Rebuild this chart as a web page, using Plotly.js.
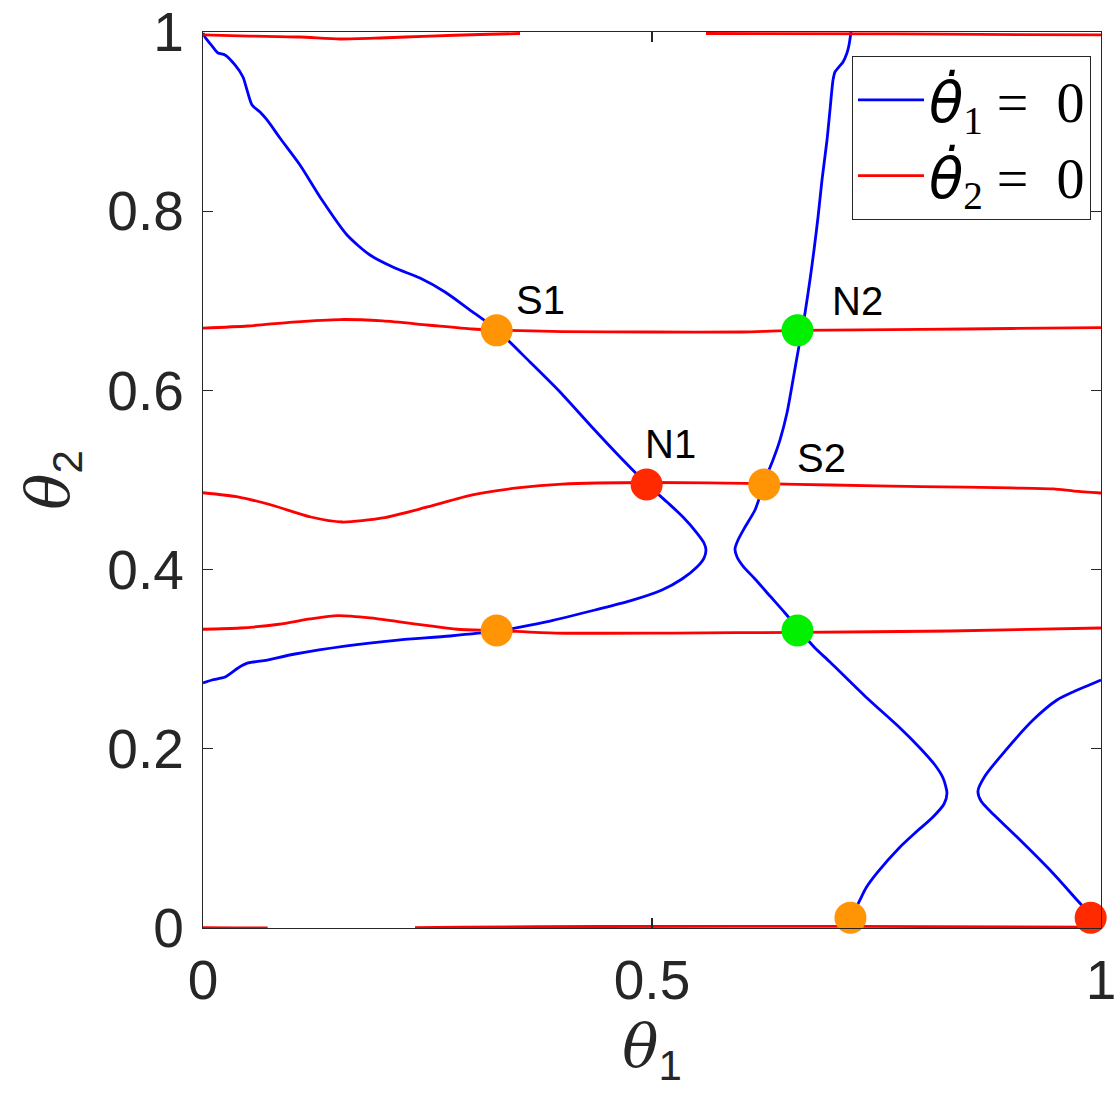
<!DOCTYPE html>
<html>
<head>
<meta charset="utf-8">
<script src="https://cdn.plot.ly/plotly-3.0.1.min.js"></script>
<style>html,body{margin:0;padding:0;background:#fff;}#plot{width:1117px;height:1104px;}</style>
</head>
<body>
<div id="plot"></div>
<script>
// ---- theta1_dot = 0 nullcline (blue), three branches ----
const blueAx = [0,0.0022,0.0100,0.0167,0.0245,0.0356,0.0445,0.0490,0.0546,0.0635,0.0713,0.0857,0.1080,0.1325,0.1604,0.1860,0.2138,0.2416,0.2695,0.2973,0.3274,0.3641,0.3976,0.4310,0.4644,0.4944,0.5167,0.5345,0.5501,0.5579,0.5601,0.5579,0.5501,0.5334,0.5111,0.4755,0.4365,0.3864,0.3530,0.3274,0.2751,0.2171,0.1581,0.1024,0.0657,0.0501,0.0390,0.0245,0.0100,0];
const blueAy = [0.9989,0.9944,0.9844,0.9766,0.9743,0.9632,0.9498,0.9353,0.9185,0.9107,0.9018,0.8817,0.8516,0.8125,0.7734,0.7511,0.7366,0.7254,0.7098,0.6897,0.6674,0.6317,0.5982,0.5614,0.5257,0.4955,0.4754,0.4587,0.4408,0.4297,0.4219,0.4129,0.4029,0.3895,0.3772,0.3650,0.3549,0.3426,0.3359,0.3315,0.3259,0.3214,0.3147,0.3058,0.2980,0.2958,0.2902,0.2801,0.2768,0.2734];

const blueBx = [0.7216,0.7194,0.7171,0.7127,0.7071,0.7038,0.7016,0.6982,0.6949,0.6893,0.6849,0.6804,0.6759,0.6704,0.6670,0.6637,0.6570,0.6503,0.6425,0.6347,0.6281,0.6225,0.6147,0.6036,0.5958,0.5924,0.5947,0.6013,0.6147,0.6314,0.6481,0.6648,0.6815,0.6982,0.7394,0.7762,0.7984,0.8151,0.8241,0.8285,0.8252,0.8129,0.7929,0.7762,0.7506,0.7383,0.7316,0.7261];
const blueBy = [1.0,0.9855,0.9766,0.9665,0.9598,0.9554,0.9464,0.9129,0.8795,0.8348,0.7935,0.7567,0.7232,0.6864,0.6674,0.6496,0.6116,0.5748,0.5446,0.5223,0.5056,0.4888,0.4665,0.4475,0.4330,0.4230,0.4141,0.4040,0.3895,0.3705,0.3516,0.3315,0.3125,0.2969,0.2567,0.2232,0.2009,0.1819,0.1674,0.1507,0.1384,0.1239,0.1060,0.0904,0.0614,0.0446,0.0313,0.0201];

const blueCx = [1.0,0.9844,0.9688,0.9510,0.9243,0.8875,0.8708,0.8630,0.8664,0.8764,0.9065,0.9432,0.9733,0.9855];
const blueCy = [0.2768,0.2701,0.2634,0.2545,0.2321,0.1908,0.1696,0.1529,0.1417,0.1306,0.1016,0.0647,0.0313,0.0179];

// ---- theta2_dot = 0 nullcline (red), several branches ----
const redTopAx = [0,0.0523,0.108,0.1526,0.1971,0.2528,0.3085,0.3530];
const redTopAy = [0.9967,0.9955,0.9944,0.9922,0.9933,0.9955,0.9972,0.9983];
const redTopBx = [0.5601,0.7762,1.0];
const redTopBy = [0.9983,0.9978,0.9967];

const redHighx = [0,0.05,0.1,0.153,0.2,0.25,0.3,0.327,0.4,0.5,0.6,0.661,0.8,0.9,1];
const redHighy = [0.6696,0.6719,0.6763,0.6791,0.6775,0.6730,0.6685,0.6674,0.6657,0.6652,0.6652,0.6669,0.6680,0.6691,0.6700];

const redMidx = [0,0.04,0.08,0.12,0.155,0.2,0.25,0.3,0.35,0.4,0.5,0.624,0.7,0.8,0.9,0.947,0.97,1];
const redMidy = [0.4858,0.4810,0.4710,0.4587,0.4531,0.4576,0.4699,0.4833,0.4911,0.4955,0.4972,0.4959,0.4944,0.4927,0.4911,0.4900,0.4877,0.4855];

const redLowx = [0,0.0412,0.0846,0.1192,0.1503,0.1860,0.2171,0.2528,0.2829,0.3274,0.3931,0.5245,0.6615,0.8318,1.0];
const redLowy = [0.3334,0.3348,0.3390,0.3449,0.3486,0.3460,0.3419,0.3371,0.3334,0.3320,0.3292,0.3292,0.3300,0.3315,0.3348];

const redBotAx = [0,0.035,0.072];
const redBotAy = [0.0004,0.0002,0.0002];
const redBotBx = [0.2361,0.2862,0.4421,0.7205,1.0];
const redBotBy = [0.0003,0.0010,0.0017,0.0018,0.0010];

// ---- equilibria ----
const eqX = [0.327,0.494,0.625,0.662,0.327,0.662,0.721,0.9885];
const eqY = [0.667,0.495,0.495,0.667,0.332,0.332,0.0115,0.0115];
const eqType = ['saddle','node1','saddle','node2','saddle','node2','saddle','node1'];
const eqName = ['S1','N1','S2','N2','','','',''];

const typeColor = {saddle:'#ff9505', node1:'#ff2a00', node2:'#00f000'};
const BLUE = '#0000ff', RED = '#ff0000';

function line(x, y, color, name, show){
  return {x:x, y:y, type:'scatter', mode:'lines',
          line:{color:color, width:2.8, shape:'spline', smoothing:0.7},
          name:name, showlegend:show, legendgroup:name, hoverinfo:'skip'};
}
const dotTheta = '<span style="font-family:DejaVu Sans"><i>θ\u0307</i></span>';
const n1 = dotTheta + '<sub>1</sub> =\u20020';
const n2 = dotTheta + '<sub>2</sub> =\u20020';

const traces = [
  line(blueAx, blueAy, BLUE, n1, true),
  line(blueBx, blueBy, BLUE, n1, false),
  line(blueCx, blueCy, BLUE, n1, false),
  line(redTopAx, redTopAy, RED, n2, true),
  line(redTopBx, redTopBy, RED, n2, false),
  line(redHighx, redHighy, RED, n2, false),
  line(redMidx, redMidy, RED, n2, false),
  line(redLowx, redLowy, RED, n2, false),
  line(redBotAx, redBotAy, RED, n2, false),
  line(redBotBx, redBotBy, RED, n2, false),
  {x:eqX, y:eqY, type:'scatter', mode:'markers', showlegend:false, cliponaxis:false,
   marker:{size:32, color:eqType.map(t=>typeColor[t]), line:{width:0}}, hoverinfo:'skip'}
];

const labelShift = {S1:[44,30], N1:[24,40], S2:[57,26], N2:[60,29]};
const annotations = eqName.map((nm,i)=>nm ? {
  x:eqX[i], y:eqY[i], xref:'x', yref:'y', text:nm, showarrow:false,
  xshift:labelShift[nm][0], yshift:labelShift[nm][1],
  font:{family:'Liberation Sans, Arial, sans-serif', size:40, color:'#000'}
} : null).filter(a=>a);

const axisCommon = {
  range:[0,1], showgrid:false, zeroline:false, showline:true, mirror:'ticks',
  linecolor:'#262626', linewidth:1.2, ticks:'inside', ticklen:10, tickwidth:1.2, tickcolor:'#262626',
  tickfont:{family:'Liberation Sans, Arial, sans-serif', size:55, color:'#262626'},
  automargin:false, fixedrange:true
};

const layout = {
  width:1117, height:1104,
  margin:{l:203, r:16, t:32, b:176, pad:0},
  paper_bgcolor:'#fff', plot_bgcolor:'#fff',
  showlegend:true,
  xaxis:Object.assign({}, axisCommon, {
    tickvals:[0,0.5,1], ticktext:['0','0.5','1'], ticklabelstandoff:4,
    title:{text:'<span style="font-family:DejaVu Serif"><i>θ</i></span><sub>1</sub>', standoff:8,
           font:{family:'Liberation Sans, Arial, sans-serif', size:60, color:'#262626'}}
  }),
  yaxis:Object.assign({}, axisCommon, {
    tickvals:[0,0.2,0.4,0.6,0.8,1], ticktext:['0','0.2','0.4','0.6','0.8','1'], ticklabelstandoff:7,
    title:{text:'<span style="font-family:DejaVu Serif"><i>θ</i></span><sub>2</sub>', standoff:18,
           font:{family:'Liberation Sans, Arial, sans-serif', size:60, color:'#262626'}}
  }),
  legend:{x:0.7227, y:0.9732, xanchor:'left', yanchor:'top', bgcolor:'#fff',
          bordercolor:'#262626', borderwidth:1, itemwidth:66, tracegroupgap:0,
          font:{family:'Liberation Serif, DejaVu Serif, serif', size:56, color:'#000'}},
  annotations:annotations
};

Plotly.newPlot('plot', traces, layout, {staticPlot:true, displayModeBar:false});
</script>
</body>
</html>
